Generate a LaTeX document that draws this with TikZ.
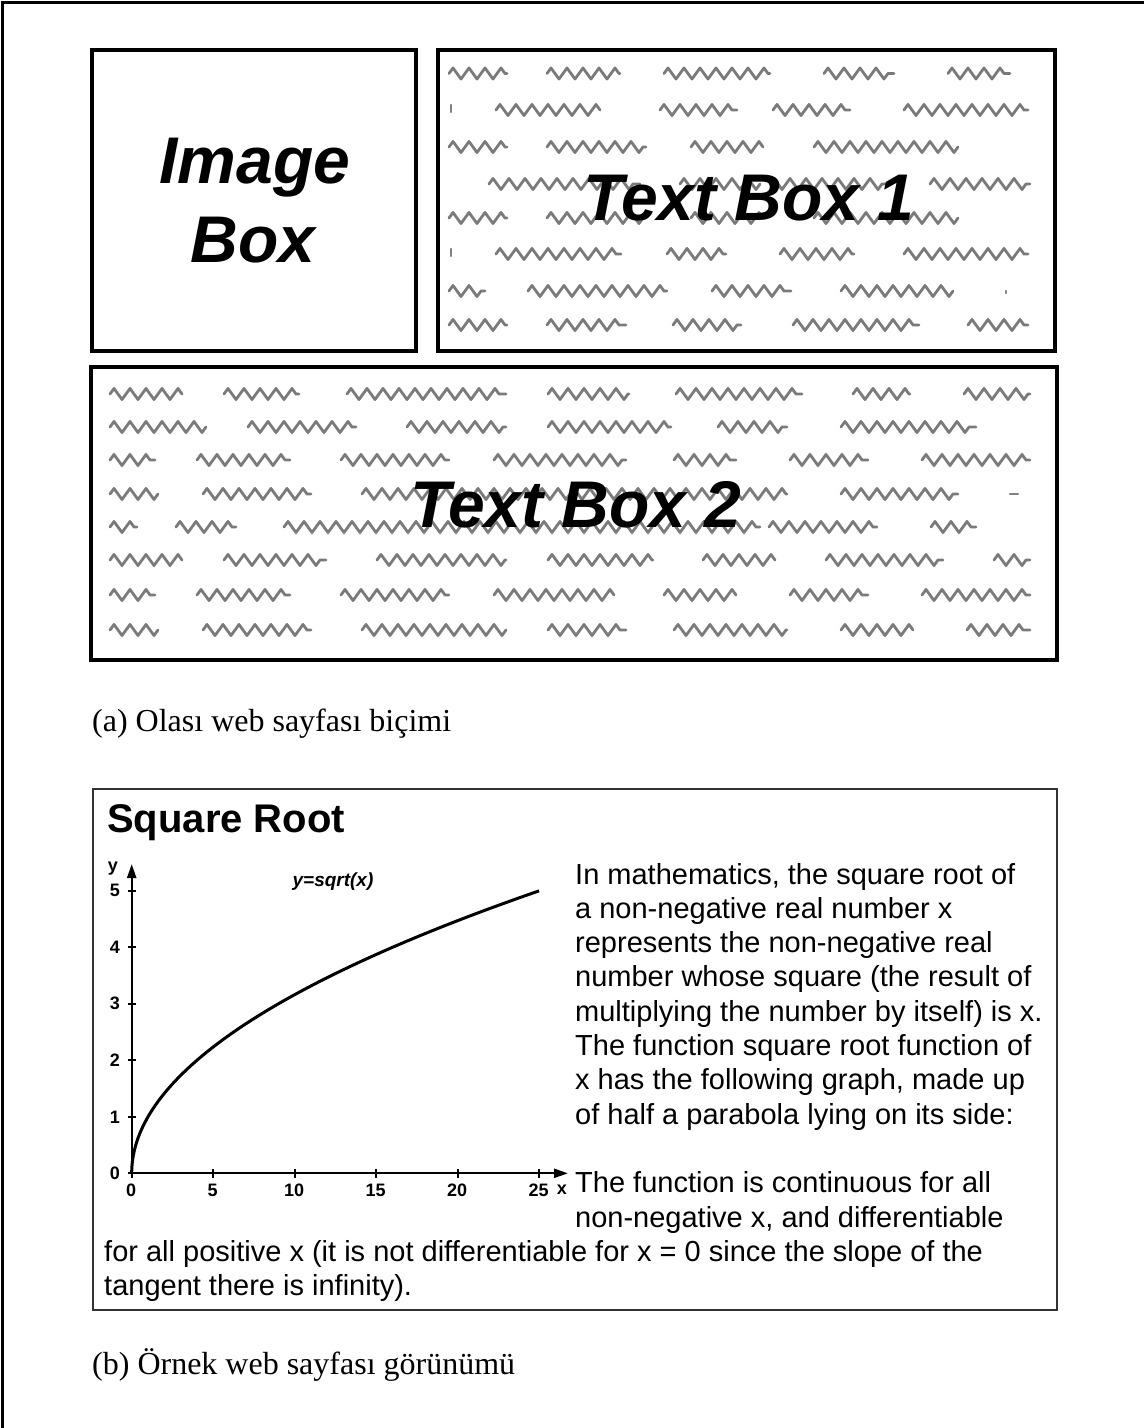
\documentclass[tikz,border=0pt]{standalone}
\usepackage{fontspec}
\setmainfont{Liberation Serif}
\newfontfamily\arial{Liberation Sans}
\usetikzlibrary{decorations.pathmorphing,arrows.meta}
\tikzset{
 frameline/.style={line width=3pt},
 bigbox/.style={draw, line width=4pt},
 srbox/.style={draw=black!80, line width=2.5pt},
 squig/.style={draw=black!52, line width=2.8pt, line join=round, line cap=round, decorate, decoration={zigzag, segment length=16pt, amplitude=5.5pt}},
 tick mark/.style={draw=black!50, line width=2.4pt, line cap=round},
 boxlabel/.style={font=\arial\bfseries\itshape\fontsize{66}{75}\selectfont, inner sep=0, anchor=base},
 caption/.style={font=\fontsize{32}{38}\selectfont, anchor=base west, inner sep=0},
 para/.style={font=\arial\fontsize{29}{34}\selectfont, anchor=base west, inner sep=0},
 title/.style={font=\arial\bfseries\fontsize{40}{46}\selectfont, anchor=base west, inner sep=0},
 ticklab/.style={font=\arial\bfseries\fontsize{18}{21}\selectfont, inner sep=0},
 fnlab/.style={font=\arial\bfseries\itshape\fontsize{19}{22}\selectfont, inner sep=0},
 axis/.style={line width=2.2pt},
 curve/.style={line width=3pt},
}
\begin{document}
\begin{tikzpicture}[x=1pt,y=-1pt]
\useasboundingbox (0,0) rectangle (1144,1428);
% outer frame (left and top)
\draw[frameline] (2,1428) -- (2,2.5) -- (1144,2.5);

% ---------- (a) layout ----------
\draw[bigbox] (92,50) rectangle (416,351);
\draw[bigbox] (438,50) rectangle (1055,351);
\draw[bigbox] (91,367) rectangle (1057,660);

% squiggles Text Box 1
\foreach \a/\b in {449/507,547/620,664/770,824/894,948/1010} \draw[squig] (\a,73.5) -- (\b,73.5);
\foreach \a/\b in {496/600,660/737,773/850,904/1028} \draw[squig] (\a,110) -- (\b,110);
\foreach \a/\b in {449/507,547/646,691/763,814/958} \draw[squig] (\a,147) -- (\b,147);
\foreach \a/\b in {489/640,680/760,770/885,930/1030} \draw[squig] (\a,184) -- (\b,184);
\foreach \a/\b in {449/507,547/646,691/763,814/958} \draw[squig] (\a,218) -- (\b,218);
\foreach \a/\b in {496/621,667/726,780/854,904/1028} \draw[squig] (\a,254) -- (\b,254);
\foreach \a/\b in {449/485,528/667,712/791,841/953} \draw[squig] (\a,291) -- (\b,291);
\foreach \a/\b in {449/507,547/626,673/741,793/919,968/1028} \draw[squig] (\a,325) -- (\b,325);
\draw[tick mark] (451,105) -- (451,112);
\draw[tick mark] (451,249) -- (451,256);
\draw[tick mark] (1006,291) -- (1006,293);

% squiggles Text Box 2
\foreach \a/\b in {110/182,224/299,347/506,548/629,676/802,853/910,964/1030} \draw[squig] (\a,394) -- (\b,394);
\foreach \a/\b in {110/206,248/356,407/506,548/671,718/787,841/976} \draw[squig] (\a,427) -- (\b,427);
\foreach \a/\b in {110/155,197/290,341/449,494/626,674/736,790/868,922/1030} \draw[squig] (\a,460) -- (\b,460);
\foreach \a/\b in {110/158,203/311,362/787,841/958} \draw[squig] (\a,494) -- (\b,494);
\foreach \a/\b in {110/137,176/236,284/760,769/877,931/976} \draw[squig] (\a,527) -- (\b,527);
\foreach \a/\b in {110/182,224/326,377/506,548/653,703/775,826/943,994/1030} \draw[squig] (\a,560) -- (\b,560);
\foreach \a/\b in {110/155,197/290,341/449,494/614,664/736,790/868,922/1030} \draw[squig] (\a,595) -- (\b,595);
\foreach \a/\b in {110/158,203/311,362/506,548/626,674/787,841/913,967/1030} \draw[squig] (\a,630) -- (\b,630);
\draw[tick mark] (1010,494) -- (1018,494);

% labels
\node[boxlabel] (img1) at (255,183) {Image};
\node[boxlabel] (img2) at (253,262) {Box};
\node[boxlabel] (tb1) at (749,220) {Text Box 1};
\node[boxlabel] (tb2) at (576,527) {Text Box 2};

\node[caption] (capa) at (92,731) {(a) Olası web sayfası biçimi};

% ---------- (b) example page ----------
\draw[srbox] (93,789) rectangle (1057,1310);
\node[title] (sqt) at (107,832) {Square Root};

% graph
\coordinate (O) at (131.7,1173.3);
\coordinate (xend) at (568,1173.3);
\coordinate (yend) at (131.7,864);
\draw[axis,-{Triangle[length=14pt,width=9pt]}] (O) -- (xend);
\draw[axis,-{Triangle[length=14pt,width=9pt]}] (O) -- (yend);
\foreach \k in {0,...,5} {
  \draw[axis] (128,{1173.3-56.5*\k}) -- (136,{1173.3-56.5*\k});
  \node[ticklab] (yl\k) at (115,{1173.3-56.5*\k}) {\k};
}
\foreach \k in {0,5,10,15,20,25} {
  \draw[axis] ({131.7+16.3*\k},1169) -- ({131.7+16.3*\k},1178);
  \node[ticklab] (xl\k) at ({131.2+16.3*\k},1190) {\k};
}
\node[ticklab] (ylab) at (113,869) {y};
\node[ticklab] (xlab) at (562,1190) {x};
\draw[curve] plot[domain=0:5, samples=80, smooth] ({131.7+16.3*\x*\x},{1173.3-56.5*\x});
\node[fnlab] (fn) at (333,882) {y=sqrt(x)};

% paragraph
\foreach \t [count=\i from 0] in {
 {In mathematics, the square root of},
 {a non-negative real number x},
 {represents the non-negative real},
 {number whose square (the result of},
 {multiplying the number by itself) is x.},
 {The function square root function of},
 {x has the following graph, made up},
 {of half a parabola lying on its side:}}
 \node[para] (p\i) at (575,{884+34.3*\i}) {\t};
\node[para] (q1) at (575,{884+34.3*9}) {The function is continuous for all};
\node[para] (q2) at (575,{884+34.3*10}) {non-negative x, and differentiable};
\node[para] (q3) at (104,{884+34.3*11}) {for all positive x (it is not differentiable for x = 0 since the slope of the};
\node[para] (q4) at (104,{884+34.3*12}) {tangent there is infinity).};

\node[caption] (capb) at (92,1374) {(b) Örnek web sayfası görünümü};
\end{tikzpicture}
\end{document}
